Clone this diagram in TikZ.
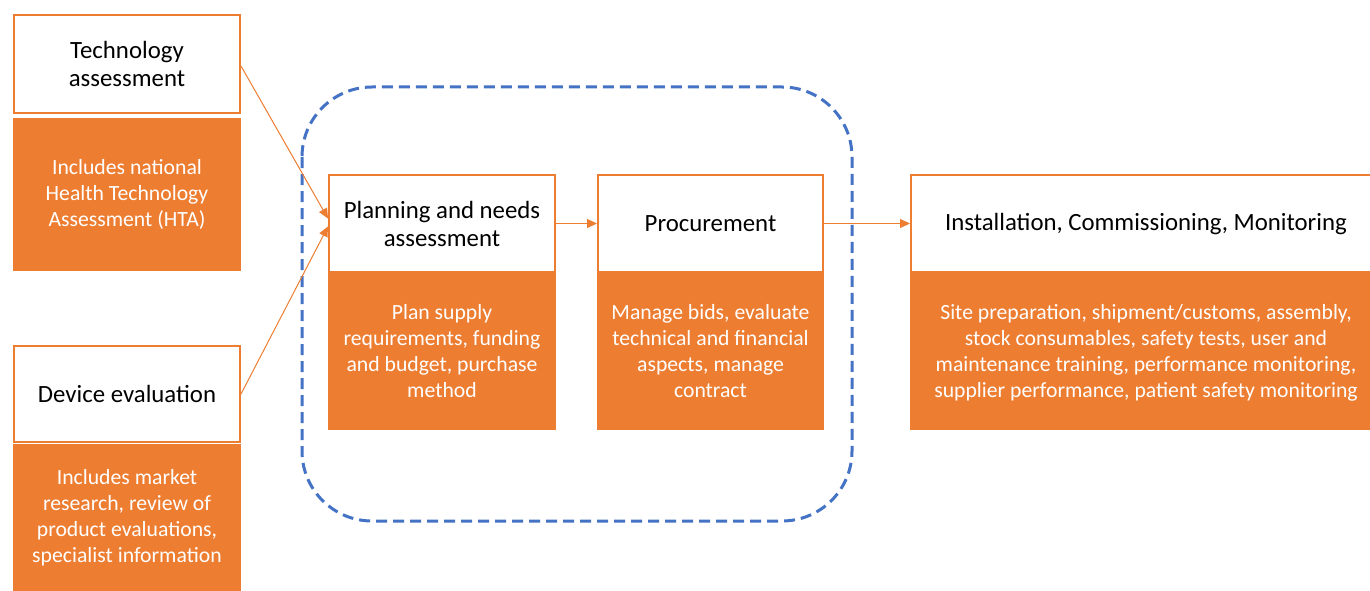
\documentclass[tikz,border=0pt]{standalone}
\usepackage{fontspec}
\setmainfont{Carlito}
\usetikzlibrary{arrows.meta}
\definecolor{org}{HTML}{ED7D31}
\definecolor{blu}{HTML}{4472C4}
\tikzset{
  hdr/.style={draw=org, line width=2pt, fill=white, align=center, inner sep=0pt,
    font=\fontsize{24.8}{28}\selectfont, text=black},
  body/.style={fill=org, align=center, inner sep=0pt,
    font=\fontsize{21.7}{26}\selectfont, text=white},
  conn/.style={draw=org, line width=1pt, -{Triangle[length=10pt,width=9pt]}},
  group/.style={draw=blu, line width=3pt, dash pattern=on 11pt off 6pt, rounded corners=70pt}
}
\begin{document}
\begin{tikzpicture}[x=1pt,y=-1pt]
\useasboundingbox (0,0) rectangle (1370,591);
% dashed group
\draw[group] (302,87) rectangle (852,521);
% technology
\node[hdr, minimum width=226pt, minimum height=98pt] (tw) at (127,64) {Technology\\assessment};
\node[body, minimum width=228pt, minimum height=153pt] (tb) at (127,194.5) {Includes national\\Health Technology\\Assessment (HTA)};
% device
\node[hdr, minimum width=226pt, minimum height=96pt] (dw) at (127,394) {Device evaluation};
\node[body, minimum width=228pt, minimum height=147pt] (db) at (127,517.5) {Includes market\\research, review of\\product evaluations,\\specialist information};
% planning
\node[hdr, minimum width=226pt, minimum height=97pt] (pw) at (442,223.5) {Planning and needs\\assessment};
\node[body, minimum width=228pt, minimum height=157pt] (pb) at (442,351.5) {Plan supply\\requirements, funding\\and budget, purchase\\method};
% procurement
\node[hdr, minimum width=225pt, minimum height=97pt] (rw) at (710.5,223.5) {Procurement};
\node[body, minimum width=227pt, minimum height=157pt] (rb) at (710.5,351.5) {Manage bids, evaluate\\technical and financial\\aspects, manage\\contract};
% installation
\node[hdr, minimum width=463pt, minimum height=97pt] (iw) at (1142.5,223.5) {};
\node[font=\fontsize{24.8}{28}\selectfont, inner sep=0pt] (it) at (1146,224) {Installation, Commissioning, Monitoring};
\node[body, minimum width=465pt, minimum height=157pt] (ib) at (1142.5,351.5) {};
\node[font=\fontsize{21.7}{26}\selectfont, text=white, align=center, inner sep=0pt] (ibt) at (1146,353) {Site preparation, shipment/customs, assembly,\\stock consumables, safety tests, user and\\maintenance training, performance monitoring,\\supplier performance, patient safety monitoring};
% connectors
\draw[conn] ([yshift=-2pt]tw.east) -- ([yshift=5pt]pw.west);
\draw[conn] (dw.east) -- ([yshift=-3pt]pw.west);
\draw[conn] (pw.east) -- (rw.west);
\draw[conn] (rw.east) -- (iw.west);
\end{tikzpicture}
\end{document}
